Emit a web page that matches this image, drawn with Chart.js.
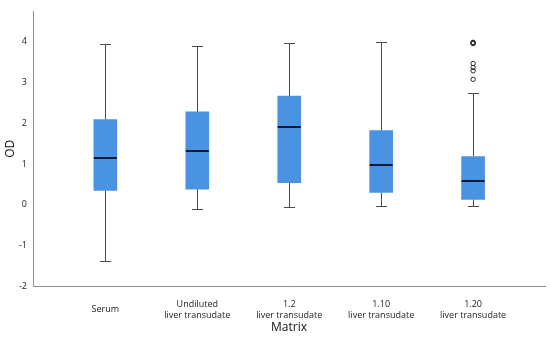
<!DOCTYPE html>
<html>
<head>
<meta charset="utf-8">
<script src="https://cdn.jsdelivr.net/npm/chart.js@4.4.1/dist/chart.umd.min.js"></script>
<style>
  html, body { margin: 0; padding: 0; background: #fff; }
  #wrap { width: 550px; height: 344px; }
</style>
</head>
<body>
<div id="wrap"><canvas id="c"></canvas></div>
<script>
// box plot values (OD per matrix)
var matrixLabels = [
  'Serum',
  ['Undiluted', 'liver transudate'],
  ['1.2', 'liver transudate'],
  ['1.10', 'liver transudate'],
  ['1.20', 'liver transudate'],
];
var whiskerLow = [-1.38, -0.10, -0.06, -0.03, -0.04];
var q1Values = [0.35, 0.38, 0.54, 0.30, 0.13];
var medianValues = [1.15, 1.32, 1.91, 0.97, 0.57];
var q3Values = [2.09, 2.28, 2.67, 1.82, 1.18];
var whiskerHigh = [3.96, 3.89, 3.98, 3.99, 2.75];
var outlierGroup = [4, 4, 4, 4, 4, 4, 4, 4];
var outlierValues = [3.96, 3.97, 3.98, 3.99, 3.47, 3.37, 3.29, 3.08];
var yTicks = [-2, -1, 0, 1, 2, 3, 4];

var FONT = '"Open Sans", "Noto Sans", sans-serif';
var BOX_BLUE = '#4a93e3';
var WHISKER = '#4a4a4a';
var MEDIAN = '#0b1a33';
var AXIS = '#8f8f8f';

function boxData() {
  return matrixLabels.map(function (_, i) {
    return { x: i, y: [q1Values[i], q3Values[i]] };
  });
}

function outlierData() {
  return outlierValues.map(function (v, i) {
    return { x: outlierGroup[i], y: v };
  });
}

var whiskerPlugin = {
  id: 'whiskers',
  beforeDatasetsDraw: function (chart) {
    var xs = chart.scales.x;
    var ys = chart.scales.y;
    var ctx = chart.ctx;
    ctx.save();
    ctx.strokeStyle = WHISKER;
    ctx.lineWidth = 1;
    for (var i = 0; i < matrixLabels.length; i += 1) {
      var cx = Math.round(xs.getPixelForValue(i)) + 0.5;
      var yHi = Math.round(ys.getPixelForValue(whiskerHigh[i])) + 0.5;
      var yLo = Math.round(ys.getPixelForValue(whiskerLow[i])) + 0.5;
      var yQ3 = ys.getPixelForValue(q3Values[i]);
      var yQ1 = ys.getPixelForValue(q1Values[i]);
      ctx.beginPath();
      ctx.moveTo(cx, yQ3);
      ctx.lineTo(cx, yHi);
      ctx.moveTo(cx - 5.5, yHi);
      ctx.lineTo(cx + 5.5, yHi);
      ctx.moveTo(cx, yQ1);
      ctx.lineTo(cx, yLo);
      ctx.moveTo(cx - 5.5, yLo);
      ctx.lineTo(cx + 5.5, yLo);
      ctx.stroke();
    }
    ctx.restore();
  },
  afterDatasetsDraw: function (chart) {
    var xs = chart.scales.x;
    var ys = chart.scales.y;
    var ctx = chart.ctx;
    ctx.save();
    ctx.strokeStyle = MEDIAN;
    ctx.lineWidth = 2;
    for (var i = 0; i < matrixLabels.length; i += 1) {
      var cx = xs.getPixelForValue(i);
      var ym = Math.round(ys.getPixelForValue(medianValues[i]));
      ctx.beginPath();
      ctx.moveTo(cx - 11.5, ym);
      ctx.lineTo(cx + 11.5, ym);
      ctx.stroke();
    }
    ctx.restore();
  },
};

new Chart(document.getElementById('c'), {
  type: 'bar',
  data: {
    datasets: [
      {
        type: 'bar',
        data: boxData(),
        backgroundColor: BOX_BLUE,
        borderWidth: 0,
        barThickness: 23,
      },
      {
        type: 'scatter',
        data: outlierData(),
        pointStyle: 'circle',
        pointRadius: 2.2,
        pointBorderWidth: 1,
        pointBorderColor: '#2a2a2a',
        pointBackgroundColor: 'rgba(255,255,255,0)',
        showLine: false,
      },
    ],
  },
  options: {
    responsive: true,
    maintainAspectRatio: false,
    animation: false,
    devicePixelRatio: 1,
    layout: { padding: { left: 0, right: 4, top: 5, bottom: 0 } },
    plugins: { legend: { display: false }, tooltip: { enabled: false } },
    scales: {
      x: {
        type: 'linear',
        min: -0.787,
        max: 4.782,
        offset: false,
        grid: { display: false, drawTicks: false, offset: false },
        border: { display: true, color: AXIS, width: 1 },
        afterBuildTicks: function (scale) {
          scale.ticks = matrixLabels.map(function (_, i) { return { value: i }; });
        },
        afterFit: function (scale) { scale.height = 58; },
        ticks: {
          autoSkip: false,
          maxRotation: 0,
          crossAlign: 'center',
          padding: 18,
          color: '#222',
          font: { family: FONT, size: 9, lineHeight: 1.3 },
          callback: function (value) { return matrixLabels[value]; },
        },
        title: {
          display: true,
          text: 'Matrix',
          color: '#111',
          font: { family: FONT, size: 12 },
          padding: { top: 0, bottom: 9.5 },
        },
      },
      y: {
        type: 'linear',
        min: -2,
        max: 4.75,
        grid: { display: false, drawTicks: false },
        border: { display: true, color: AXIS, width: 1 },
        afterBuildTicks: function (scale) {
          scale.ticks = yTicks.map(function (v) { return { value: v }; });
        },
        afterFit: function (scale) { scale.width = 33; },
        ticks: {
          padding: 6,
          color: '#222',
          font: { family: FONT, size: 9 },
        },
        title: {
          display: true,
          text: 'OD',
          color: '#111',
          font: { family: FONT, size: 12 },
          padding: { top: 3.5, bottom: 0 },
        },
      },
    },
  },
  plugins: [whiskerPlugin],
});
</script>
</body>
</html>
